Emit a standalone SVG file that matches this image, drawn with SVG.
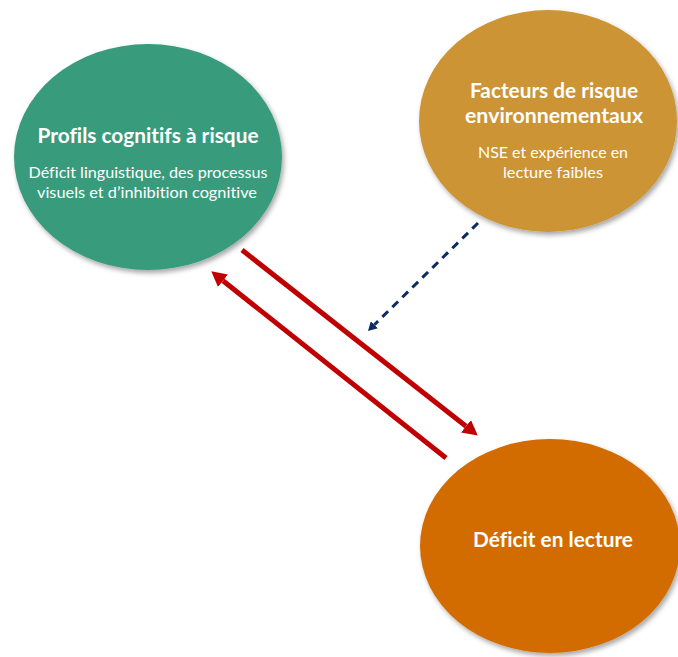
<svg xmlns="http://www.w3.org/2000/svg" width="678" height="657" viewBox="0 0 678 657">
  <defs>
    <filter id="shadow" x="-10%" y="-10%" width="125%" height="125%">
      <feDropShadow dx="2" dy="3" stdDeviation="2.5" flood-color="#000" flood-opacity="0.35"/>
    </filter>
    <marker id="redHead" markerUnits="userSpaceOnUse" markerWidth="16" markerHeight="16" refX="0" refY="8" orient="auto">
      <path d="M0,0 L15,8 L0,16 z" fill="#C00000"/>
    </marker>
    <marker id="navyHead" markerUnits="userSpaceOnUse" markerWidth="10" markerHeight="10" refX="0" refY="5" orient="auto">
      <path d="M0,0 L9,5 L0,10 z" fill="#0E2B63"/>
    </marker>
    <style>
      .title { font-family: "Lato", "Open Sans", "Liberation Sans", sans-serif; font-weight: bold; fill: #ffffff; text-anchor: middle; font-variant-ligatures: none; }
      .sub { font-family: "Lato", "Open Sans", "Liberation Sans", sans-serif; fill: #ffffff; text-anchor: middle; font-variant-ligatures: none; }
      .red { stroke: #C00000; stroke-width: 5; fill: none; marker-end: url(#redHead); }
      .dash { stroke: #0E2B63; stroke-width: 3; fill: none; stroke-dasharray: 8 6; marker-end: url(#navyHead); }
    </style>
  </defs>
  <rect width="678" height="657" fill="#ffffff"/>

  <g id="node-profils">
    <ellipse cx="148" cy="157" rx="134" ry="113" fill="#399B7C" filter="url(#shadow)"/>
    <text class="title" x="148" y="143" font-size="20" textLength="221" lengthAdjust="spacingAndGlyphs">Profils cognitifs à risque</text>
    <text class="sub" x="148" y="178" font-size="15" textLength="239" lengthAdjust="spacingAndGlyphs">Déficit linguistique, des processus</text>
    <text class="sub" x="147" y="198" font-size="15" textLength="220" lengthAdjust="spacingAndGlyphs">visuels et d’inhibition cognitive</text>
  </g>

  <g id="node-facteurs">
    <ellipse cx="548" cy="121" rx="129" ry="111" fill="#CC9434" filter="url(#shadow)"/>
    <text class="title" x="554" y="98" font-size="20" textLength="168" lengthAdjust="spacingAndGlyphs">Facteurs de risque</text>
    <text class="title" x="554" y="123" font-size="20" textLength="178" lengthAdjust="spacingAndGlyphs">environnementaux</text>
    <text class="sub" x="553" y="158" font-size="15" textLength="150" lengthAdjust="spacingAndGlyphs">NSE et expérience en</text>
    <text class="sub" x="553" y="178" font-size="15" textLength="100" lengthAdjust="spacingAndGlyphs">lecture faibles</text>
  </g>

  <g id="node-deficit">
    <ellipse cx="550" cy="546" rx="130" ry="107" fill="#D26C00" filter="url(#shadow)"/>
    <text class="title" x="553" y="547" font-size="20" textLength="160" lengthAdjust="spacingAndGlyphs">Déficit en lecture</text>
  </g>

  <g id="connectors">
    <line class="red" x1="242" y1="250" x2="466" y2="426.3"/>
    <line class="red" x1="446" y1="458" x2="223" y2="280.7"/>
    <line class="dash" x1="478" y1="223" x2="374.4" y2="324.7"/>
  </g>
</svg>
